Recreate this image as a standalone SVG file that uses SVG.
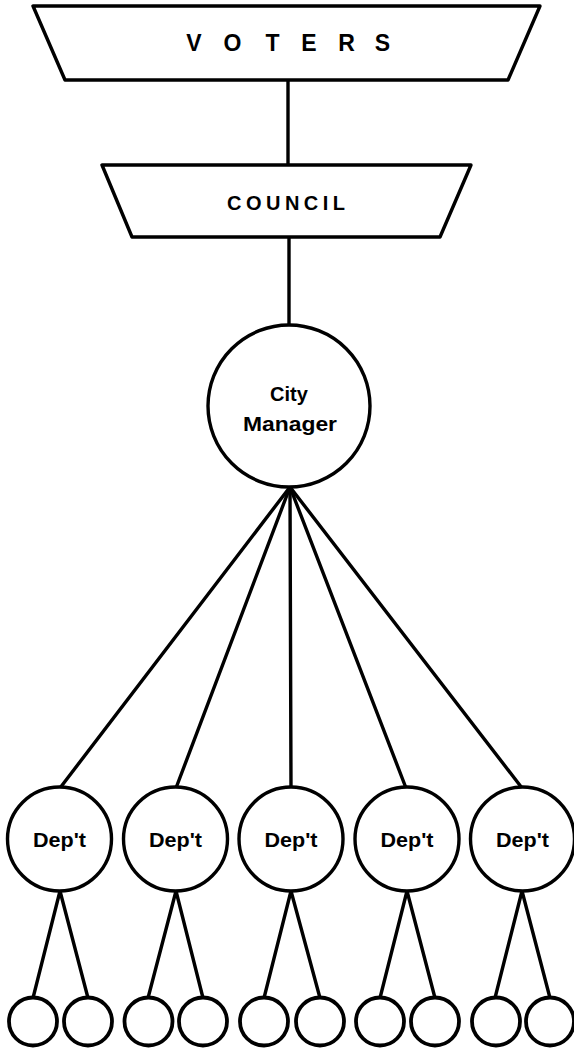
<svg xmlns="http://www.w3.org/2000/svg" width="574" height="1048" viewBox="0 0 574 1048">
  <style>
    .shape { fill: #fff; stroke: #000; stroke-width: 3.4; stroke-linejoin: round; }
    .leaf { fill: #fff; stroke: #000; stroke-width: 3.8; }
    .link { stroke: #000; stroke-width: 3.4; fill: none; stroke-linecap: round; }
    .label { font-family: "Liberation Sans", Arial, sans-serif; font-weight: bold; fill: #000; text-anchor: middle; }
  </style>
  <rect width="574" height="1048" fill="#fff"/>

  <!-- connectors -->
  <g id="connectors">
    <line class="link" x1="288" y1="80" x2="288" y2="165"/>
    <line class="link" x1="289" y1="237" x2="289" y2="325"/>
    <!-- manager to departments -->
    <line class="link" x1="290" y1="487" x2="60" y2="788"/>
    <line class="link" x1="290" y1="487" x2="176" y2="788"/>
    <line class="link" x1="290" y1="487" x2="291" y2="788"/>
    <line class="link" x1="290" y1="487" x2="406" y2="788"/>
    <line class="link" x1="290" y1="487" x2="522" y2="788"/>
    <!-- departments to units -->
    <line class="link" x1="60" y1="891" x2="33" y2="998"/>
    <line class="link" x1="60" y1="891" x2="88" y2="998"/>
    <line class="link" x1="176" y1="891" x2="148" y2="998"/>
    <line class="link" x1="176" y1="891" x2="203" y2="998"/>
    <line class="link" x1="291" y1="891" x2="264" y2="998"/>
    <line class="link" x1="291" y1="891" x2="320" y2="998"/>
    <line class="link" x1="407" y1="891" x2="380" y2="998"/>
    <line class="link" x1="407" y1="891" x2="435" y2="998"/>
    <line class="link" x1="522" y1="891" x2="495" y2="998"/>
    <line class="link" x1="522" y1="891" x2="550" y2="998"/>
  </g>

  <g id="voters">
    <polygon class="shape" points="33,6 540,6 508,80 65,80"/>
    <text class="label" x="194 232.5 272.5 309 346.5 382.5" y="51" font-size="23">VOTERS</text>
  </g>

  <g id="council">
    <polygon class="shape" points="102,165 471,165 440,237 132,237"/>
    <text class="label" x="286" y="210" font-size="20" textLength="118" lengthAdjust="spacing">COUNCIL</text>
  </g>

  <g id="city-manager">
    <circle class="shape" cx="289" cy="406" r="81"/>
    <text class="label" x="289" y="401" font-size="20">City</text>
    <text class="label" x="290" y="431" font-size="20" textLength="94" lengthAdjust="spacingAndGlyphs">Manager</text>
  </g>

  <g id="dept-1">
    <circle class="shape" cx="59.5" cy="839" r="52"/>
    <text class="label" x="59.5" y="847" font-size="20" textLength="53" lengthAdjust="spacingAndGlyphs">Dep't</text>
  </g>
  <g id="dept-2">
    <circle class="shape" cx="175.5" cy="839" r="52"/>
    <text class="label" x="175.5" y="847" font-size="20" textLength="53" lengthAdjust="spacingAndGlyphs">Dep't</text>
  </g>
  <g id="dept-3">
    <circle class="shape" cx="291" cy="839" r="52"/>
    <text class="label" x="291" y="847" font-size="20" textLength="53" lengthAdjust="spacingAndGlyphs">Dep't</text>
  </g>
  <g id="dept-4">
    <circle class="shape" cx="407" cy="839" r="52"/>
    <text class="label" x="407" y="847" font-size="20" textLength="53" lengthAdjust="spacingAndGlyphs">Dep't</text>
  </g>
  <g id="dept-5">
    <circle class="shape" cx="522.5" cy="839" r="52"/>
    <text class="label" x="522.5" y="847" font-size="20" textLength="53" lengthAdjust="spacingAndGlyphs">Dep't</text>
  </g>

  <g id="unit-1a"><circle class="leaf" cx="33" cy="1021.5" r="24"/></g>
  <g id="unit-1b"><circle class="leaf" cx="88" cy="1021.5" r="24"/></g>
  <g id="unit-2a"><circle class="leaf" cx="148.5" cy="1021.5" r="24"/></g>
  <g id="unit-2b"><circle class="leaf" cx="203" cy="1021.5" r="24"/></g>
  <g id="unit-3a"><circle class="leaf" cx="264" cy="1021.5" r="24"/></g>
  <g id="unit-3b"><circle class="leaf" cx="320" cy="1021.5" r="24"/></g>
  <g id="unit-4a"><circle class="leaf" cx="380" cy="1021.5" r="24"/></g>
  <g id="unit-4b"><circle class="leaf" cx="435" cy="1021.5" r="24"/></g>
  <g id="unit-5a"><circle class="leaf" cx="496" cy="1021.5" r="24"/></g>
  <g id="unit-5b"><circle class="leaf" cx="550" cy="1021.5" r="24"/></g>
</svg>
